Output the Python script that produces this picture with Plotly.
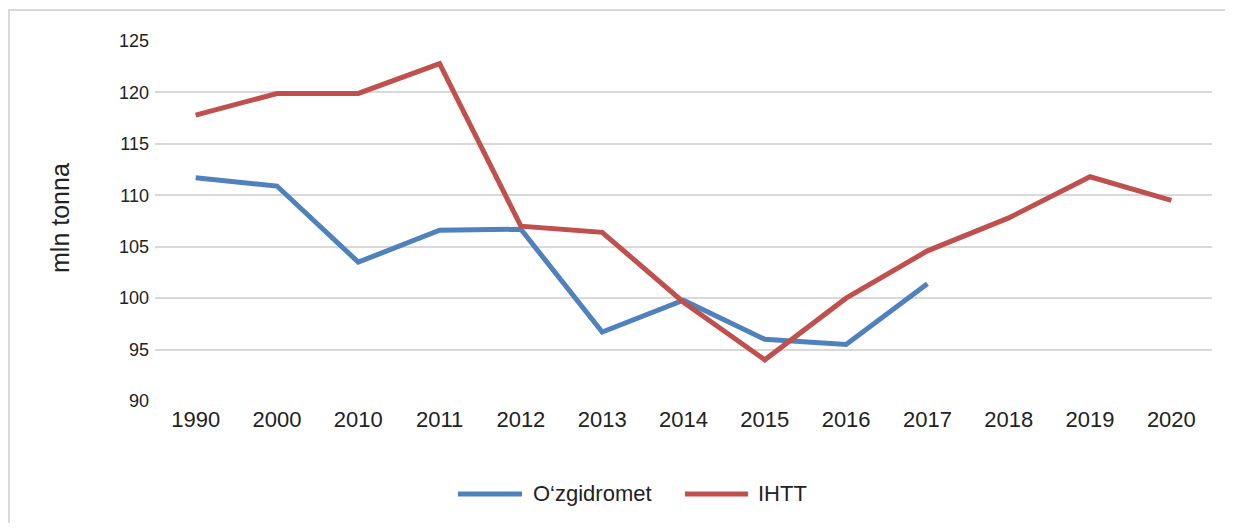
import plotly.graph_objects as go

years = ["1990", "2000", "2010", "2011", "2012", "2013", "2014", "2015", "2016", "2017", "2018", "2019", "2020"]
uzgidromet = [111.7, 110.9, 103.5, 106.6, 106.7, 96.7, 99.8, 96.0, 95.5, 101.4, None, None, None]
ihtt = [117.8, 119.9, 119.9, 122.8, 107.0, 106.4, 99.6, 94.0, 100.0, 104.6, 107.8, 111.8, 109.5]
y_ticks = [90, 95, 100, 105, 110, 115, 120, 125]
series_names = ["O‘zgidromet", "IHTT"]
series_colors = ["#4F81BD", "#C0504D"]

FONT = "Arial, Liberation Sans, sans-serif"
TXT = "#222222"
W, H = 1217, 515          # page body has an 8px margin
L, R, T, B = 147, 13, 33, 122
pw, ph = W - L - R, H - T - B


def px_x(px):
    return (px - L) / pw


def px_y(py):
    return (H - B - py) / ph


fig = go.Figure()
for name, vals, col in zip(series_names, [uzgidromet, ihtt], series_colors):
    fig.add_trace(go.Scatter(x=years, y=vals, name=name, mode="lines",
                             line=dict(color=col, width=5), connectgaps=False,
                             showlegend=False))

# outer frame (left and top edges)
fig.add_shape(type="line", xref="paper", yref="paper", x0=px_x(1), x1=px_x(1),
              y0=px_y(H + 5), y1=px_y(2), line=dict(color="#D9D9D9", width=2))
fig.add_shape(type="line", xref="paper", yref="paper", x0=px_x(0), x1=px_x(W + 5),
              y0=px_y(2), y1=px_y(2), line=dict(color="#D9D9D9", width=2))

# legend (drawn manually to match the long line swatches)
legend_items = [(450, 514, 523), (677, 740, 748)]
for (lx0, lx1, tx), name, col in zip(legend_items, series_names, series_colors):
    fig.add_shape(type="line", xref="paper", yref="paper", x0=px_x(lx0), x1=px_x(lx1),
                  y0=px_y(486), y1=px_y(486), line=dict(color=col, width=5))
    fig.add_annotation(xref="paper", yref="paper", x=px_x(tx), y=px_y(485),
                       xanchor="left", yanchor="middle", text=name, showarrow=False,
                       font=dict(size=22, family=FONT, color=TXT))

# y-axis title
fig.add_annotation(xref="paper", yref="paper", x=px_x(52), y=px_y(210), textangle=-90,
                   xanchor="center", yanchor="middle", text="mln tonna", showarrow=False,
                   font=dict(size=25, family=FONT, color=TXT))

fig.update_layout(
    width=W, height=H,
    margin=dict(l=L, r=R, t=T, b=B),
    paper_bgcolor="white", plot_bgcolor="white",
    font=dict(family=FONT, color=TXT),
    showlegend=False,
    xaxis=dict(type="category", range=[-0.5, 12.5], showgrid=False, showline=False,
               ticks="", tickfont=dict(size=22, family=FONT, color=TXT),
               ticklabelstandoff=3, zeroline=False),
    yaxis=dict(range=[90, 125], tickvals=y_ticks, showgrid=True, gridcolor="#D9D9D9",
               gridwidth=2, zeroline=False, showline=False, ticks="",
               tickfont=dict(size=18, family=FONT, color=TXT), ticklabelstandoff=5),
)

fig.write_html("out.html")
